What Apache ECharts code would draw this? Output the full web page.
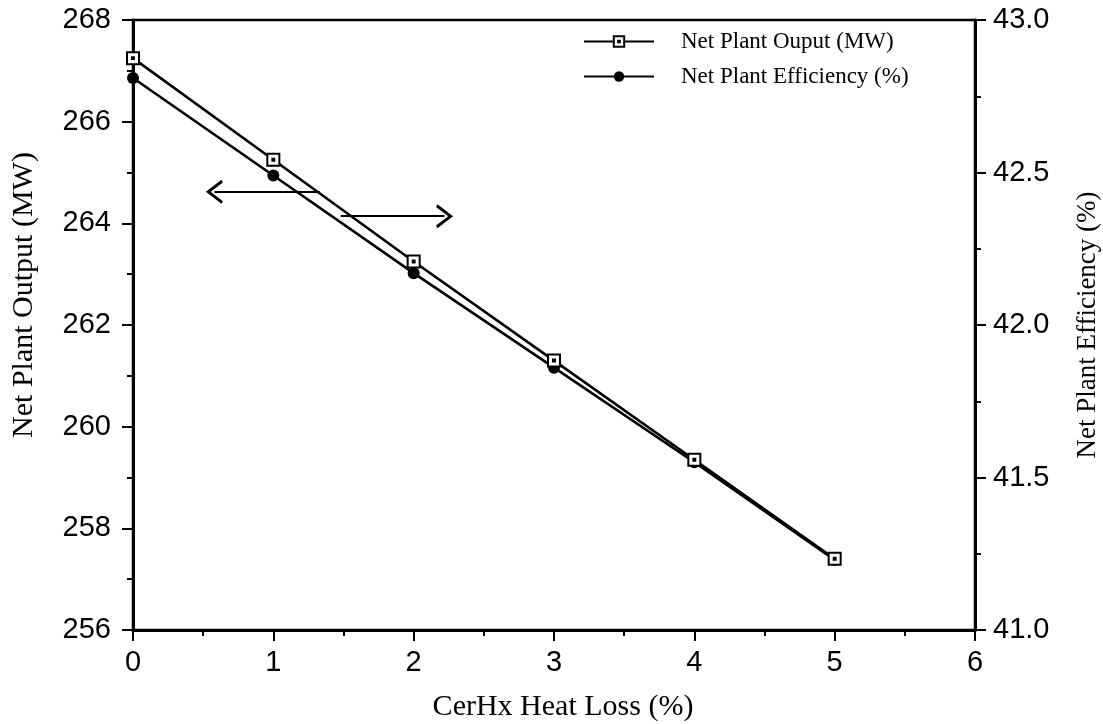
<!DOCTYPE html>
<html>
<head>
<meta charset="utf-8">
<script src="https://cdn.jsdelivr.net/npm/echarts@6/dist/echarts.min.js"></script>
<style>
  html, body { margin: 0; padding: 0; background: #fff; }
  #chart { width: 1103px; height: 724px; }
</style>
</head>
<body>
<div id="chart"></div>
<script>
// CerHx heat loss (%) on the x axis
const heatLoss = [0, 1, 2, 3, 4, 5];
// Net plant output (MW), left axis
const netOutput = [267.25, 265.25, 263.25, 261.3, 259.35, 257.4];
// Net plant efficiency (%), right axis
const netEfficiency = [42.81, 42.49, 42.17, 41.86, 41.55, 41.23];

// Axis ranges
const xRange = [0, 6, 1];
const outputRange = [256, 268, 2];
const effRange = [41, 43, 0.5];

// Reading arrows: which axis each curve belongs to (x from, x to, level on left axis)
const arrowToLeft = [1.33, 0.58, 264.62];
const arrowToRight = [1.48, 2.22, 264.14];

const serif = '"Liberation Serif", "DejaVu Serif", serif';
const sans = '"Liberation Sans", Arial, sans-serif';
const black = '#000';

// open square with a centre dot
const squareDot = 'path://M0,0 L10,0 L10,10 L0,10 Z M4.2,4.2 L5.8,4.2 L5.8,5.8 L4.2,5.8 Z';
// open chevron arrow head pointing up (markLine rotates it along the line)
const chevron = 'path://M0,0 L9,13 L7,14.2 L0,4 L-7,14.2 L-9,13 Z';

const pts = (ys) => heatLoss.map((x, i) => [x, ys[i]]);

const axisCommon = {
  axisLine: { show: true, lineStyle: { color: black, width: 3 } },
  axisTick: { show: true, inside: false, length: 11, lineStyle: { color: black, width: 2 } },
  minorTick: { show: true, splitNumber: 2, length: 6, lineStyle: { color: black, width: 2 } },
  splitLine: { show: false },
  minorSplitLine: { show: false },
  axisLabel: { color: black, fontFamily: sans, fontSize: 29 },
  nameTextStyle: { color: black, fontFamily: serif, fontSize: 30 }
};

const chart = echarts.init(document.getElementById('chart'), null, { renderer: 'canvas' });

chart.setOption({
  backgroundColor: '#fff',
  animation: false,
  grid: {
    left: 133, right: 128, top: 20, bottom: 94,
    containLabel: false, outerBoundsMode: 'none',
    show: true, borderColor: black, borderWidth: 2.5, backgroundColor: 'transparent'
  },
  legend: {
    orient: 'vertical',
    left: 578, top: 25,
    itemWidth: 70, itemHeight: 13, itemGap: 12,
    textStyle: { color: black, fontFamily: serif, fontSize: 23, padding: [0, 0, 0, 22] },
    data: ['Net Plant Ouput (MW)', 'Net Plant Efficiency (%)']
  },
  xAxis: Object.assign({}, axisCommon, {
    type: 'value',
    min: xRange[0], max: xRange[1], interval: xRange[2],
    name: 'CerHx Heat Loss (%)',
    nameLocation: 'middle', nameGap: 62,
    nameTextStyle: Object.assign({}, axisCommon.nameTextStyle, { padding: [0, 0, 0, 18] }),
    axisLabel: Object.assign({}, axisCommon.axisLabel, { margin: 18 })
  }),
  yAxis: [
    Object.assign({}, axisCommon, {
      type: 'value', position: 'left',
      min: outputRange[0], max: outputRange[1], interval: outputRange[2],
      name: 'Net Plant Output (MW)',
      nameLocation: 'middle', nameGap: 94,
      nameTextStyle: Object.assign({}, axisCommon.nameTextStyle, { padding: [0, 0, 0, 60] }),
      axisLabel: Object.assign({}, axisCommon.axisLabel, { margin: 22 })
    }),
    Object.assign({}, axisCommon, {
      type: 'value', position: 'right',
      min: effRange[0], max: effRange[1], interval: effRange[2],
      name: 'Net Plant Efficiency (%)',
      nameLocation: 'middle', nameGap: 99, nameRotate: 90,
      nameTextStyle: Object.assign({}, axisCommon.nameTextStyle, { fontSize: 27 }),
      axisLabel: Object.assign({}, axisCommon.axisLabel, {
        margin: 18, formatter: (v) => v.toFixed(1)
      })
    })
  ],
  series: [
    {
      name: 'Net Plant Ouput (MW)',
      type: 'line',
      yAxisIndex: 0,
      data: pts(netOutput),
      symbol: squareDot,
      symbolSize: 12,
      showAllSymbol: true,
      z: 3,
      lineStyle: { color: black, width: 2.6 },
      itemStyle: { color: '#fff', borderColor: black, borderWidth: 2 },
      markLine: {
        silent: true,
        animation: false,
        symbol: ['none', chevron],
        symbolSize: [24, 17],
        label: { show: false },
        lineStyle: { color: black, width: 2, type: 'solid' },
        data: [
          [{ coord: [arrowToLeft[0], arrowToLeft[2]] }, { coord: [arrowToLeft[1], arrowToLeft[2]] }],
          [{ coord: [arrowToRight[0], arrowToRight[2]] }, { coord: [arrowToRight[1], arrowToRight[2]] }]
        ]
      }
    },
    {
      name: 'Net Plant Efficiency (%)',
      type: 'line',
      yAxisIndex: 1,
      data: pts(netEfficiency),
      symbol: 'circle',
      symbolSize: 12,
      z: 2,
      lineStyle: { color: black, width: 2.6 },
      itemStyle: { color: black }
    }
  ]
});
</script>
</body>
</html>
